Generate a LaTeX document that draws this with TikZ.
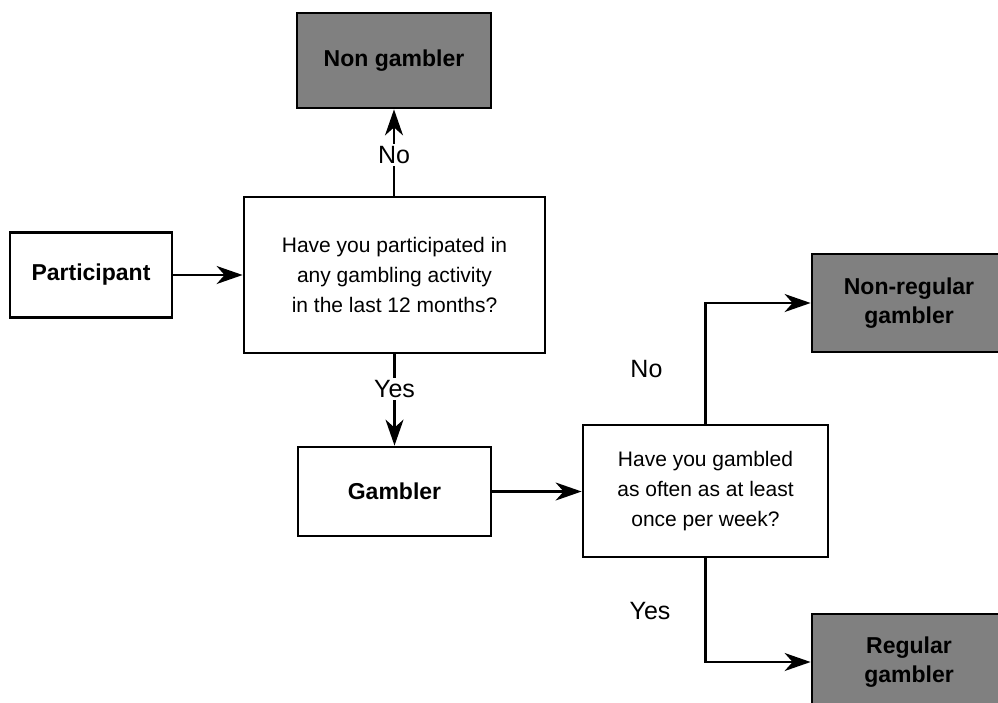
\documentclass[tikz,border=0pt]{standalone}
\usepackage{fontspec}
\setmainfont{Liberation Sans}
\usetikzlibrary{arrows.meta}
\begin{document}
\begin{tikzpicture}[x=1pt,y=-1pt,
  box/.style={draw=black, line width=2.8pt, fill=white, inner sep=0pt, align=center,
    font=\fontsize{21}{30}\selectfont},
  boldbox/.style={box, font=\bfseries\fontsize{23}{29}\selectfont},
  endbox/.style={boldbox, fill=endgray},
  conn/.style={line width=2.2pt, -{Stealth[length=26pt,width=18pt,inset=8pt]}},
  lbl/.style={inner sep=0pt, font=\fontsize{25}{28}\selectfont},
  lblw/.style={lbl, fill=white, inner sep=2pt}
]
\definecolor{endgray}{HTML}{808080}
\useasboundingbox (0,0) rectangle (998,702);
\clip (0,0) rectangle (998,702);

\node[endbox, minimum width=194pt, minimum height=95pt] (nongamb) at (394,60.5) {Non gambler};
\node[box, minimum width=301pt, minimum height=156pt] (q1) at (394.5,275)
  {Have you participated in\\any gambling activity\\in the last 12 months?};
\node[boldbox, minimum width=162pt, minimum height=85pt] (part) at (91,275) {Participant};
\node[boldbox, minimum width=193pt, minimum height=89pt] (gamb) at (394.5,491.5) {Gambler};
\node[box, minimum width=245pt, minimum height=132pt] (q2) at (705.5,491)
  {Have you gambled\\as often as at least\\once per week?};
\node[endbox, minimum width=194pt, minimum height=98pt] (nonreg) at (909,303) {Non-regular\\gambler};
\node[endbox, minimum width=194pt, minimum height=96pt] (reg) at (909,662) {Regular\\gambler};

\draw[conn] (part.east) -- (q1.west);
\draw[conn] (q1.north -| nongamb.south) -- node[lblw, pos=0.47] {No} (nongamb.south);
\draw[conn] (q1.south) -- node[lblw, pos=0.38] {Yes} (gamb.north);
\draw[conn] (gamb.east) -- (gamb.east -| q2.west);
\draw[conn] (q2.north) |- node[lbl, pos=0.225, left=42pt] {No} (nonreg.west);
\draw[conn] (q2.south) |- node[lbl, pos=0.252, left=34pt] {Yes} (reg.west);
\end{tikzpicture}
\end{document}
